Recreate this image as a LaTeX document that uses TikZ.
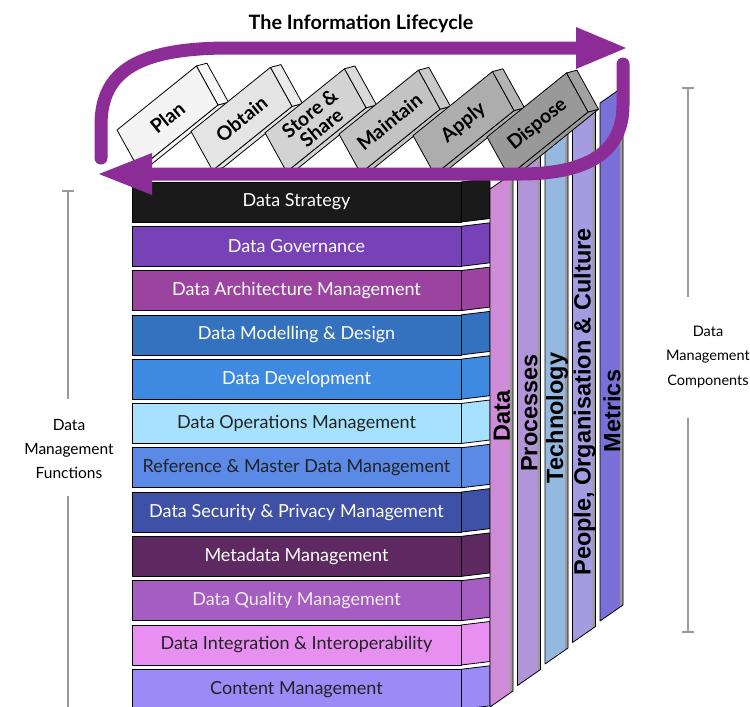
\documentclass[tikz,border=0pt]{standalone}
\usepackage{fontspec}
\setmainfont{Lato}
\newfontfamily\barfont{Liberation Sans}
\definecolor{cStrat}{HTML}{1A1A1A}
\definecolor{cGov}{HTML}{7741B8}
\definecolor{cArch}{HTML}{9A44A0}
\definecolor{cMod}{HTML}{3471BF}
\definecolor{cDev}{HTML}{3E8AE0}
\definecolor{cOps}{HTML}{A6E1FD}
\definecolor{cRef}{HTML}{5B89E6}
\definecolor{cSec}{HTML}{3E51A7}
\definecolor{cMeta}{HTML}{5E2960}
\definecolor{cQual}{HTML}{A55DC1}
\definecolor{cInt}{HTML}{E88FF2}
\definecolor{cCont}{HTML}{9C8BF6}
\definecolor{dtext}{HTML}{222222}
\definecolor{ltext}{HTML}{F4ECF6}
\definecolor{cData}{HTML}{CE8BD6}
\definecolor{cProc}{HTML}{B294D8}
\definecolor{cTech}{HTML}{94B8E0}
\definecolor{cPeop}{HTML}{A59BE0}
\definecolor{cMetr}{HTML}{7A70D8}
\definecolor{arrowc}{HTML}{8C2D97}
\definecolor{gline}{HTML}{9A9A9A}
\definecolor{b0}{HTML}{F4F4F4}\definecolor{e0}{HTML}{F8F8F8}
\definecolor{b1}{HTML}{E4E4E4}\definecolor{e1}{HTML}{EAEAEA}
\definecolor{b2}{HTML}{D3D3D3}\definecolor{e2}{HTML}{DADADA}
\definecolor{b3}{HTML}{C3C3C3}\definecolor{e3}{HTML}{CACACA}
\definecolor{b4}{HTML}{ADADAD}\definecolor{e4}{HTML}{B4B4B4}
\definecolor{b5}{HTML}{999999}\definecolor{e5}{HTML}{A2A2A2}
\begin{document}
\begin{tikzpicture}[x=1pt,y=-1pt,
  outl/.style={draw=black,line width=0.8pt,line join=round},
  rowtext/.style={font=\fontsize{18}{20}\selectfont,inner sep=0pt},
  bartext/.style={font=\barfont\bfseries\fontsize{23.5}{24}\selectfont,rotate=90,inner sep=0pt,text=black},
  blocktext/.style={font=\bfseries\fontsize{19.5}{18.5}\selectfont,rotate=39,align=center,inner sep=0pt,text=black},
  sidetext/.style={align=center,inner sep=0pt,text=black},
  bracket/.style={draw=gline,line width=1.3pt},
  loop/.style={draw=arrowc,line width=13pt,line cap=round}]
\useasboundingbox (0,0) rectangle (750,707);
\fill[white] (0,0) rectangle (750,707);

% title
\node[font=\bfseries\fontsize{19.8}{22}\selectfont,inner sep=0pt] (title) at (361,24) {The Information Lifecycle};

% rows (data management functions)
\foreach \i/\col/\tc/\lab in {
  0/cStrat/white/Data Strategy,
  1/cGov/white/Data Governance,
  2/cArch/white/Data Architecture Management,
  3/cMod/white/Data Modelling \& Design,
  4/cDev/white/Data Development,
  5/cOps/dtext/Data Operations Management,
  6/cRef/dtext/Reference \& Master Data Management,
  7/cSec/white/Data Security \& Privacy Management,
  8/cMeta/white/Metadata Management,
  9/cQual/ltext/Data Quality Management,
  10/cInt/dtext/Data Integration \& Interoperability,
  11/cCont/dtext/Content Management}{
  \pgfmathsetmacro\yt{182+44.3*\i}
  \pgfmathsetmacro\yb{\yt+40}
  \path[outl,fill=\col] (461,\yt) -- (490,\yt-3.5) -- (490,\yb-3.5) -- (461,\yb) -- cycle;
  \path[outl,fill=\col] (132,\yt) rectangle (461,\yb);
  \node[rowtext,text=\tc] (row\i) at (296.5,\yt+20) {\lab};
}

% component bars
\foreach \j/\col/\lab/\ty in {
  0/cData/Data/416,
  1/cProc/Processes/413,
  2/cTech/Technology/418,
  3/cPeop/{People, Organisation \& Culture}/402,
  4/cMetr/Metrics/411}{
  \pgfmathsetmacro\xl{490+27.5*\j}
  \pgfmathsetmacro\yB{707-21.5*\j}
  \path[fill=\col] (\xl,\yB) -- (\xl+23,\yB-16) -- (\xl+23,\yB-534) -- (\xl,\yB-518) -- cycle;
  \path[fill=gline] (\xl+20,\yB-14) -- (\xl+23,\yB-16) -- (\xl+23,\yB-534) -- (\xl+20,\yB-520) -- cycle;
  \path[outl] (\xl,\yB) -- (\xl+23,\yB-16) -- (\xl+23,\yB-534) -- (\xl,\yB-518) -- cycle;
  \node[bartext] (bar\j) at (\xl+12,\ty) {\lab};
}

% lifecycle blocks
\foreach \k/\fc/\ec/\lab in {
  0/b0/e0/Plan,
  1/b1/e1/Obtain,
  2/b2/e2/{Store \&\\Share},
  3/b3/e3/Maintain,
  4/b4/e4/Apply,
  5/b5/e5/Dispose}{
  \pgfmathsetmacro\ax{117+74*\k}
  \pgfmathsetmacro\ay{130+1.4*\k}
  % bottom strip
  \path[outl,fill=\fc] (\ax+21.6,\ay+39) -- (\ax+101,\ay-25) -- (\ax+111.5,\ay-27.8) -- (\ax+32.1,\ay+36.2) -- cycle;
  % end face
  \path[outl,fill=\ec] (\ax+79.4,\ay-64) -- (\ax+89.9,\ay-66.8) -- (\ax+111.5,\ay-27.8) -- (\ax+101,\ay-25) -- cycle;
  % front face
  \path[outl,fill=\fc] (\ax,\ay) -- (\ax+79.4,\ay-64) -- (\ax+101,\ay-25) -- (\ax+21.6,\ay+39) -- cycle;
  \node[blocktext] (blk\k) at (\ax+50.5,\ay-12.5) {\lab};
}

% lifecycle loop arrow
\path[loop] (101,158) -- (101,125) .. controls (101,70) and (140,48) .. (230,48) -- (580,48);
\fill[arrowc] (576,27) -- (626,48) -- (576,69) -- cycle;
\path[loop] (623,64) -- (623,105) .. controls (623,152) and (588,174) .. (520,174) -- (148,174);
\fill[arrowc] (152,153) -- (99,174) -- (152,195) -- cycle;

% side labels and brackets
\node[sidetext,font=\fontsize{15.5}{24}\selectfont] (dmf) at (69,449) {Data\\Management\\Functions};
\node[sidetext,font=\fontsize{14.5}{24.5}\selectfont] (dmc) at (708,357) {Data\\Management\\Components};
\coordinate (lt) at (68,191);
\coordinate (lm1) at (68,399);
\coordinate (lm2) at (68,496);
\coordinate (lb) at (68,707);
\coordinate (rt) at (688,88);
\coordinate (rm1) at (688,297);
\coordinate (rm2) at (688,418);
\coordinate (rb) at (688,632);
\path[bracket] (lt) -- (lm1);
\path[bracket] (lm2) -- (lb);
\path[bracket] ([xshift=-6pt]lt) -- ([xshift=6pt]lt);
\path[bracket] (rt) -- (rm1);
\path[bracket] (rm2) -- (rb);
\path[bracket] ([xshift=-6pt]rt) -- ([xshift=6pt]rt);
\path[bracket] ([xshift=-6pt]rb) -- ([xshift=6pt]rb);
\end{tikzpicture}
\end{document}
